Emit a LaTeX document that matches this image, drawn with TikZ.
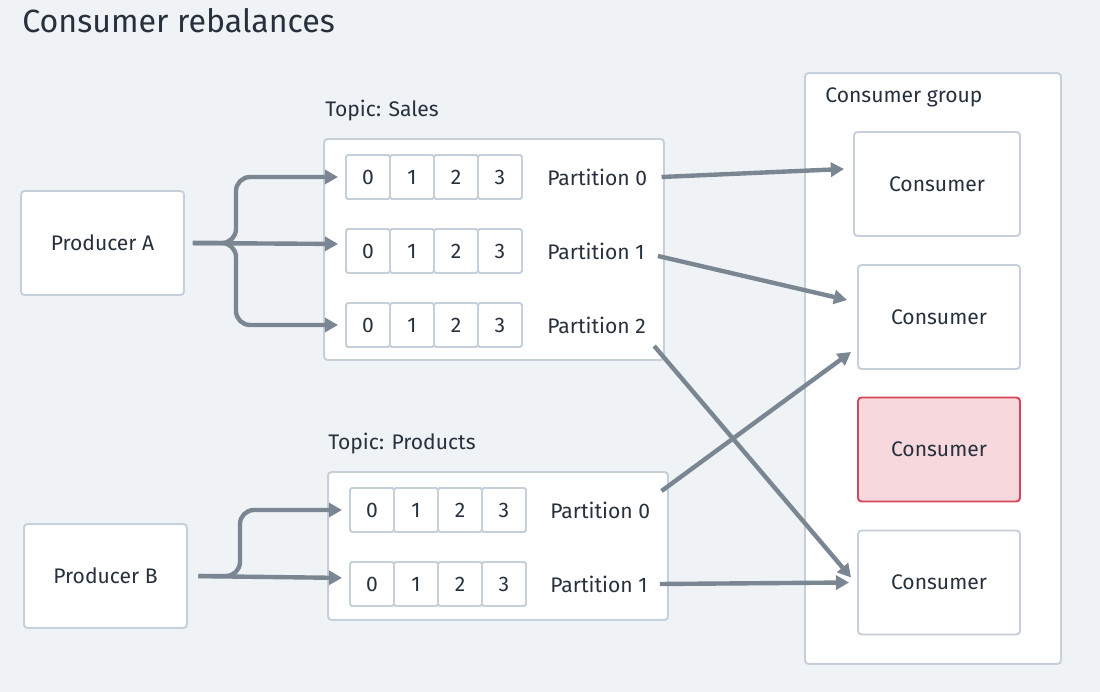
\documentclass[tikz,border=0pt]{standalone}
\usepackage{fontspec}
\setmainfont{Fira Sans}
\usetikzlibrary{arrows.meta,positioning}
\definecolor{pagebg}{HTML}{EFF3F6}
\definecolor{boxedge}{HTML}{C6D0DA}
\definecolor{wire}{HTML}{7A8793}
\definecolor{ink}{HTML}{27313D}
\definecolor{downfill}{HTML}{F6D8DD}
\definecolor{downedge}{HTML}{D6455A}

\begin{document}
\begin{tikzpicture}[x=0.02cm, y=-0.02cm, text=ink,
    font=\fontsize{12}{14}\selectfont,
    box/.style={draw=boxedge, fill=white, line width=1.1pt, rounded corners=2pt, inner sep=0pt},
    cell/.style={box, rounded corners=1pt, minimum width=0.88cm, minimum height=0.88cm},
    client/.style={box, minimum width=3.26cm, minimum height=2.08cm},
    member/.style={box, minimum width=3.24cm, minimum height=2.08cm},
    down/.style={member, draw=downedge, fill=downfill},
    part/.style={anchor=west, inner sep=0pt},
    caption/.style={anchor=base west, inner sep=0pt},
    wire/.style={draw=wire, line width=2.5pt},
    feed/.style={wire, -{Triangle[length=7.5pt,width=8pt]}},
    fork/.style={feed, shorten >=4pt}]
    \fill[pagebg] (0,0) rectangle (1100,692);
    \useasboundingbox (0,0) rectangle (1100,692);
    \node[caption, font=\fontsize{18.3}{20}\selectfont] (title) at (22,33) {Consumer rebalances};
    % containers
    \node[box, minimum width=5.12cm, minimum height=11.82cm] (group) at (933,368.5) {};
    \node[caption] (grouplbl) at (825,103) {Consumer group};
    \node[box, minimum width=6.8cm, minimum height=4.42cm] (sales) at (494,249.5) {};
    \node[caption] (saleslbl) at (325,117) {Topic: Sales};
    \node[box, minimum width=6.8cm, minimum height=2.96cm] (products) at (498,546) {};
    \node[caption] (productslbl) at (328,450) {Topic: Products};
    % producers
    \node[client] (pa) at (102.5,243) {Producer A};
    \node[client] (pb) at (105.5,576) {Producer B};
    % partitions
    \foreach \r/\y in {0/177,1/251,2/325} {
        \foreach \k/\x in {0/368,1/412,2/456,3/500}
            \node[cell] (s\r c\k) at (\x,\y) {\k};
        \node[part] (sp\r) at (547,\y) {Partition \r};
    }
    \foreach \r/\y in {0/510,1/584} {
        \foreach \k/\x in {0/372,1/416,2/460,3/504}
            \node[cell] (p\r c\k) at (\x,\y) {\k};
        \node[part] (pp\r) at (550,\y) {Partition \r};
    }
    % consumers
    \node[box, minimum width=3.32cm, minimum height=2.08cm] (c1) at (937,184) {Consumer};
    \node[member] (c2) at (939,317) {Consumer};
    \node[down] (c3) at (939,449.5) {Consumer};
    \node[member] (c4) at (939,582.5) {Consumer};
    % producer forks
    \coordinate (fa) at (236,243);
    \coordinate (fb) at (240,576);
    \draw[fork, rounded corners=8pt, shorten <=4.5pt] (pa.east) -- (fa) |- (s0c0.west);
    \draw[fork, rounded corners=8pt, shorten <=4.5pt] (pa.east) -- (fa) |- (s2c0.west);
    \draw[fork, shorten <=4.5pt] (pa.east) -- ([shift={(0,-7)}]s1c0.west);
    \draw[fork, rounded corners=8pt, shorten <=6pt] (pb.east) -- (fb) |- (p0c0.west);
    \draw[fork, shorten <=6pt] (pb.east) -- ([shift={(0,-6)}]p1c0.west);
    % assignments
    \draw[feed] ([shift={(14,0)}]sp0.east) -- ([shift={(-9,-15)}]c1.west);
    \draw[feed] ([shift={(13,5)}]sp1.east) -- ([shift={(-10,-17)}]c2.west);
    \draw[feed] ([shift={(8,21)}]sp2.east) -- ([shift={(-6,-5)}]c4.west);
    \draw[feed] ([shift={(11,-19)}]pp0.east) -- ([shift={(-6,35)}]c2.west);
    \draw[feed] ([shift={(12,0)}]pp1.east) -- ([shift={(-8,0)}]c4.west);
\end{tikzpicture}
\end{document}
